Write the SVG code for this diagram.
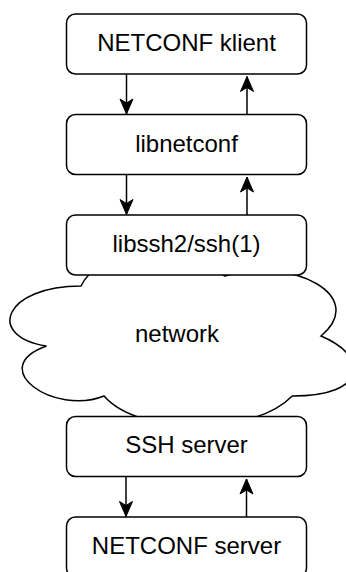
<svg xmlns="http://www.w3.org/2000/svg" width="346" height="572" viewBox="0 0 346 572">
  <style>
    .box { fill: #ffffff; stroke: #000000; stroke-width: 1.5; }
    .cloud { fill: #ffffff; stroke: #000000; stroke-width: 1.5; }
    .lbl { font-family: "Liberation Sans", Arial, Helvetica, sans-serif; font-size: 24px; fill: #000000; text-anchor: middle; }
    .edge { fill: none; stroke: #000000; stroke-width: 1.5; }
  </style>
  <defs>
    <marker id="arrow" markerUnits="userSpaceOnUse" markerWidth="17" markerHeight="15" refX="15" refY="7" orient="auto" overflow="visible">
      <path d="M0,0.5 L15,7 L0,13.5 L4,7 Z" fill="#000000" stroke="#000000" stroke-width="1"/>
    </marker>
  </defs>
  <rect width="346" height="572" fill="#ffffff"/>

  <g id="network">
    <path class="cloud" d="M81,286 C4.2,286 -15,336 46.44,346 C-15,368 54.12,416 104.04,396 C138.6,436 253.8,436 292.2,396 C369,396 369,356 321,336 C369,296 292.2,256 225,276 C177,246 100.2,246 81,286 Z"/>
    <text class="lbl" x="177" y="342">network</text>
  </g>

  <g id="netconf-klient">
    <rect class="box" x="66.5" y="14" width="240" height="60" rx="9" ry="9"/>
    <text class="lbl" x="186.5" y="51">NETCONF klient</text>
  </g>
  <g id="libnetconf">
    <rect class="box" x="66.5" y="114.5" width="240" height="60" rx="9" ry="9"/>
    <text class="lbl" x="186.5" y="151.5">libnetconf</text>
  </g>
  <g id="libssh2">
    <rect class="box" x="66.5" y="215" width="240" height="60" rx="9" ry="9"/>
    <text class="lbl" x="186.5" y="251.5">libssh2/ssh(1)</text>
  </g>
  <g id="ssh-server">
    <rect class="box" x="66.5" y="416.5" width="240" height="60" rx="9" ry="9"/>
    <text class="lbl" x="186.5" y="452.5">SSH server</text>
  </g>
  <g id="netconf-server">
    <rect class="box" x="66.5" y="517" width="240" height="60" rx="9" ry="9"/>
    <text class="lbl" x="186.5" y="553.5">NETCONF server</text>
  </g>

  <g id="connectors">
    <line class="edge" x1="126.5" y1="74" x2="126.5" y2="114" marker-end="url(#arrow)"/>
    <line class="edge" x1="247" y1="114.5" x2="247" y2="76.5" marker-end="url(#arrow)"/>
    <line class="edge" x1="126.5" y1="174.5" x2="126.5" y2="214.5" marker-end="url(#arrow)"/>
    <line class="edge" x1="247" y1="215" x2="247" y2="177" marker-end="url(#arrow)"/>
    <line class="edge" x1="126" y1="476.5" x2="126" y2="516.5" marker-end="url(#arrow)"/>
    <line class="edge" x1="246.5" y1="517" x2="246.5" y2="479" marker-end="url(#arrow)"/>
  </g>
</svg>
